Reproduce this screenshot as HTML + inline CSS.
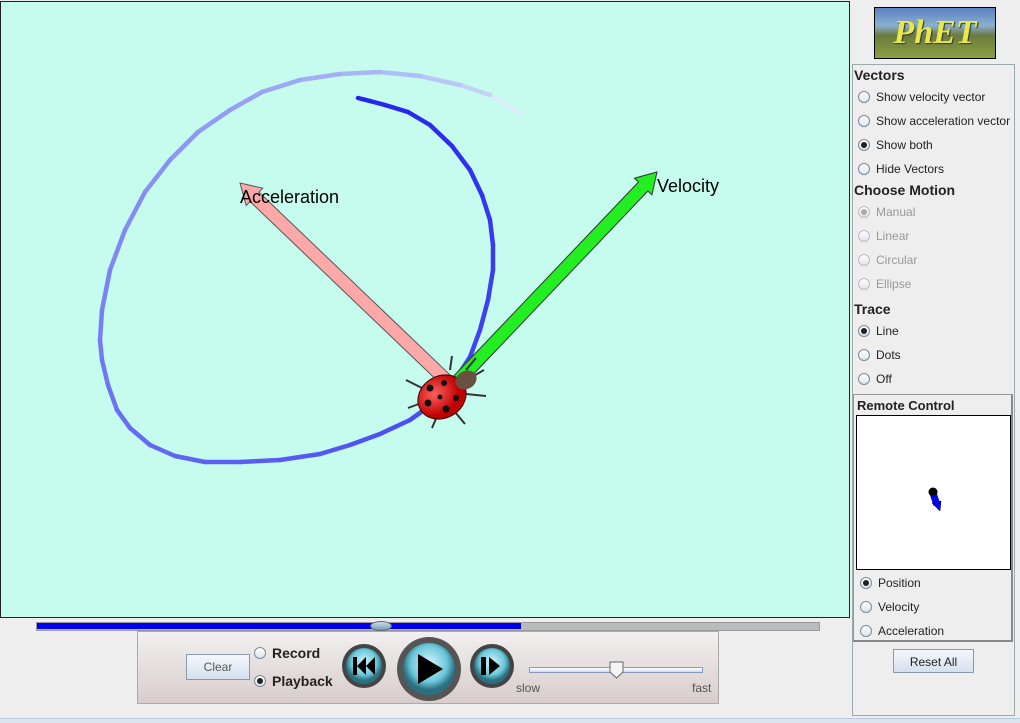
<!DOCTYPE html>
<html><head><meta charset="utf-8">
<style>
body{margin:0;width:1020px;height:722px;overflow:hidden;background:#eeeeee;font-family:"Liberation Sans",sans-serif;position:relative}
.abs{position:absolute}
.rad{position:absolute;font-size:12px;color:#222;display:flex;align-items:center;height:16px}
.rad i{display:inline-block;width:10px;height:10px;border:1px solid #7a8a99;border-radius:50%;background:linear-gradient(#fff,#dde4ea);margin-right:6px;position:relative}
.rad i.on::after{content:"";position:absolute;left:2px;top:2px;width:6px;height:6px;border-radius:50%;background:#222}
.dis{color:#999}
.dis i{border-color:#bbb}
.dis i.on::after{background:#aaa}
.hd{position:absolute;font-size:14px;font-weight:bold;color:#222}
</style></head><body>
<div class="abs" style="left:0;top:1px;width:850px;height:617px;border:1px solid #222;background:#c6fcee;box-sizing:border-box"></div>
<svg class="abs" style="left:0;top:0" width="850" height="620">
<defs>
<radialGradient id="lb" cx="40%" cy="35%"><stop offset="0" stop-color="#ff6060"/><stop offset="1" stop-color="#c00000"/></radialGradient>
</defs>
<g id="trace"></g>
<polygon id="acc" fill="#ffa8a8" stroke="#555" stroke-width="1"/>
<text x="240" y="203" font-size="18" font-family="Liberation Sans" fill="#000">Acceleration</text>
<polygon id="vel" fill="#22ee22" stroke="#333" stroke-width="1"/>
<text x="657" y="192" font-size="18" font-family="Liberation Sans" fill="#000">Velocity</text>
<g>
<g stroke="#333" stroke-width="2" fill="none">
<path d="M422 388 l-16 -8 M424 402 l-16 6 M438 414 l-6 14 M455 412 l10 12 M466 394 l20 2 M470 378 l14 -8 M450 370 l2 -14 M466 370 l10 -12"/>
</g>
<ellipse cx="442" cy="397" rx="25" ry="21" fill="url(#lb)" stroke="#300" stroke-width="1" transform="rotate(-30 442 397)"/>
<ellipse cx="466" cy="380" rx="11" ry="9" fill="#6a5040" transform="rotate(-30 466 380)"/>
<g fill="#111"><circle cx="430" cy="388" r="3.5"/><circle cx="444" cy="383" r="3"/><circle cx="428" cy="403" r="3.5"/><circle cx="446" cy="409" r="3.5"/><circle cx="456" cy="398" r="3"/><circle cx="440" cy="397" r="2.5"/></g>
</g>
</svg>
<script>
var traceX=[520,490,460,420,380,340,300,262,230,198,170,145,125,110,102,100,102,108,117,130,150,175,205,240,280,320,350,380,410,435,455,470,480,488,493,493,490,482,470,452,430,408,385,370,358];
var traceY=[113,95,85,76,72,74,80,92,110,132,160,192,230,270,310,340,360,385,410,428,445,456,462,462,460,454,445,434,420,402,380,357,330,300,270,245,220,195,170,146,125,112,105,101,98];
var g=document.getElementById('trace');
var n=traceX.length;
for(var i=0;i<n-1;i++){
  var t=Math.pow(i/(n-2),0.55);
  var c0=[220,235,248],c1=[35,35,240];
  var r=Math.round(c0[0]+(c1[0]-c0[0])*t),gg=Math.round(c0[1]+(c1[1]-c0[1])*t),b=Math.round(c0[2]+(c1[2]-c0[2])*t);
  var l=document.createElementNS('http://www.w3.org/2000/svg','line');
  l.setAttribute('x1',traceX[i]);l.setAttribute('y1',traceY[i]);
  l.setAttribute('x2',traceX[i+1]);l.setAttribute('y2',traceY[i+1]);
  l.setAttribute('stroke','rgb('+r+','+gg+','+b+')');
  l.setAttribute('stroke-width','4.5');l.setAttribute('stroke-linecap','round');
  
  
  g.appendChild(l);
}
function arrow(id,x0,y0,x1,y1,hw,hh,hl){
  var dx=x1-x0,dy=y1-y0,L=Math.sqrt(dx*dx+dy*dy),ux=dx/L,uy=dy/L,px=-uy,py=ux;
  var bx=x1-ux*hl,by=y1-uy*hl;
  var p=[[x0+px*hw,y0+py*hw],[bx+px*hw,by+py*hw],[bx+px*hh,by+py*hh],[x1,y1],[bx-px*hh,by-py*hh],[bx-px*hw,by-py*hw],[x0-px*hw,y0-py*hw]];
  document.getElementById(id).setAttribute('points',p.map(function(q){return q[0].toFixed(1)+','+q[1].toFixed(1)}).join(' '));
}
arrow('acc',447,381,240,183,6.5,12,20);
arrow('vel',458,381,657,172,6.5,12,20);
</script>
<!-- timeline -->
<div class="abs" style="left:36px;top:622px;width:782px;height:7px;background:#b8bcbc;border:1px solid #999"></div>
<div class="abs" style="left:37px;top:623px;width:484px;height:6px;background:#0000ee"></div>
<div class="abs" style="left:370px;top:621px;width:20px;height:8px;border-radius:50%;background:linear-gradient(#cde,#79a);border:1px solid #567"></div>
<!-- bottom panel -->
<div class="abs" style="left:137px;top:631px;width:580px;height:71px;border:1px solid #aaa;background:linear-gradient(#f2f0f0,#d8cccc)"></div>
<div class="abs" style="left:186px;top:654px;width:62px;height:24px;border:1px solid #8899aa;background:linear-gradient(#f4f8fc,#d4e0ee);font-size:12px;color:#555;text-align:center;line-height:24px">Clear</div>
<div class="rad" style="left:254px;top:645px;font-weight:bold;font-size:14px"><i></i>Record</div>
<div class="rad" style="left:254px;top:673px;font-weight:bold;font-size:14px"><i class="on"></i>Playback</div>
<svg class="abs" style="left:340px;top:632px" width="180" height="78">
<defs><radialGradient id="bt" cx="50%" cy="40%"><stop offset="0" stop-color="#d8f4fa"/><stop offset="0.7" stop-color="#6cc8dc"/><stop offset="1" stop-color="#2a7080"/></radialGradient></defs>
<g><circle cx="24" cy="34" r="22" fill="#444"/><circle cx="24" cy="34" r="18" fill="url(#bt)"/><path d="M13 25h4v18h-4zM26 25v18l-9-9zM35 25v18l-9-9z" fill="#000"/></g>
<g><circle cx="89" cy="37" r="32" fill="#555"/><circle cx="89" cy="37" r="26" fill="url(#bt)"/><path d="M78 22v30l25-15z" fill="#000"/></g>
<g><circle cx="152" cy="34" r="22" fill="#444"/><circle cx="152" cy="34" r="18" fill="url(#bt)"/><path d="M141 25h5v18h-5zM149 25v18l11-9z" fill="#000"/></g>
</svg>
<div class="abs" style="left:529px;top:667px;width:172px;height:4px;border:1px solid #8899bb;background:linear-gradient(#fff,#cde)"></div>
<svg class="abs" style="left:609px;top:661px" width="16" height="18"><path d="M1 1h13v10l-6.5 6l-6.5-6z" fill="#f4f4f4" stroke="#666"/></svg>
<div class="abs" style="left:516px;top:681px;font-size:12px;color:#555">slow</div>
<div class="abs" style="left:692px;top:681px;font-size:12px;color:#555">fast</div>
<div class="abs" style="left:0;top:718px;width:1020px;height:4px;background:#dbe4ef;border-top:1px solid #b8c8dc"></div>
<!-- right panel -->
<div class="abs" style="left:874px;top:7px;width:120px;height:50px;border:1px solid #000;background:linear-gradient(#5a80c0 0%,#8ab0d0 35%,#6a7a40 55%,#8aa040 100%);overflow:hidden">
<div style="font-family:'Liberation Serif',serif;font-style:italic;font-weight:bold;font-size:34px;color:#e8e84a;text-align:center;line-height:50px;text-shadow:1px 1px 1px #333">PhET</div></div>
<div class="abs" style="left:852px;top:64px;width:163px;height:652px;border:1px solid #9aa;box-sizing:border-box"></div>
<div class="hd" style="left:854px;top:67px">Vectors</div>
<div class="rad" style="left:858px;top:89px"><i></i>Show velocity vector</div>
<div class="rad" style="left:858px;top:113px"><i></i>Show acceleration vector</div>
<div class="rad" style="left:858px;top:137px"><i class="on"></i>Show both</div>
<div class="rad" style="left:858px;top:161px"><i></i>Hide Vectors</div>
<div class="hd" style="left:854px;top:182px">Choose Motion</div>
<div class="rad dis" style="left:858px;top:204px"><i class="on"></i>Manual</div>
<div class="rad dis" style="left:858px;top:228px"><i></i>Linear</div>
<div class="rad dis" style="left:858px;top:252px"><i></i>Circular</div>
<div class="rad dis" style="left:858px;top:276px"><i></i>Ellipse</div>
<div class="hd" style="left:854px;top:301px">Trace</div>
<div class="rad" style="left:858px;top:323px"><i class="on"></i>Line</div>
<div class="rad" style="left:858px;top:347px"><i></i>Dots</div>
<div class="rad" style="left:858px;top:371px"><i></i>Off</div>
<div class="abs" style="left:853px;top:394px;width:160px;height:248px;border:1px solid #999;border-right:2px solid #888;border-bottom:2px solid #888;box-sizing:border-box"></div>
<div class="hd" style="left:857px;top:398px;font-size:13px">Remote Control</div>
<div class="abs" style="left:856px;top:415px;width:155px;height:155px;background:#fff;border:1px solid #000;box-sizing:border-box"></div>
<svg class="abs" style="left:856px;top:415px" width="155" height="155"><line x1="77" y1="78" x2="81" y2="90" stroke="#00f" stroke-width="7"/><path d="M76 88l9-2l-1 10z" fill="#00f" stroke="#000" stroke-width="0.5"/><circle cx="77" cy="77" r="4.5" fill="#000"/></svg>
<div class="rad" style="left:860px;top:575px"><i class="on"></i>Position</div>
<div class="rad" style="left:860px;top:599px"><i></i>Velocity</div>
<div class="rad" style="left:860px;top:623px"><i></i>Acceleration</div>
<div class="abs" style="left:893px;top:649px;width:81px;height:24px;border:1px solid #8899aa;background:linear-gradient(#f4f8fc,#d4e0ee);font-size:12px;color:#222;text-align:center;line-height:24px;box-sizing:border-box">Reset All</div>
</body></html>
